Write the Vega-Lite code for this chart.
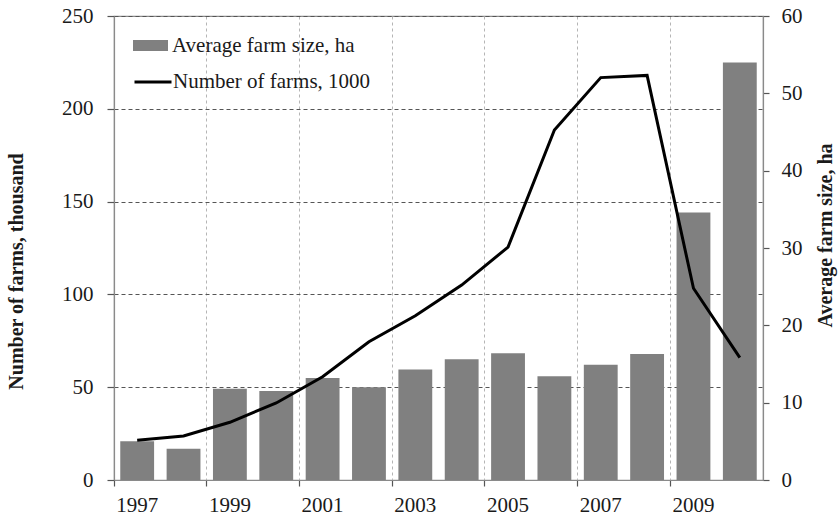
{
  "$schema": "https://vega.github.io/schema/vega-lite/v6.json",
  "width": 649,
  "height": 464,
  "autosize": "none",
  "padding": {"left": 114, "top": 16, "right": 75, "bottom": 38},
  "background": "white",
  "config": {
    "view": {"stroke": "#8a8a8a", "strokeWidth": 1.2},
    "font": "Liberation Serif",
    "axis": {
      "labelFont": "Liberation Serif",
      "labelFontSize": 21,
      "labelColor": "#1a1a1a",
      "titleFont": "Liberation Serif",
      "titleFontSize": 20,
      "titleFontWeight": "bold",
      "titleColor": "#1a1a1a",
      "domainColor": "#8a8a8a",
      "domainWidth": 1.2,
      "tickColor": "#555555",
      "tickWidth": 1.2
    },
    "legend": {
      "labelFont": "Liberation Serif",
      "labelFontSize": 21,
      "labelColor": "#1a1a1a",
      "labelLimit": 400
    }
  },
  "data": {
    "values": [
      {"year": 1997, "farms": 21.4, "size": 5.0},
      {"year": 1998, "farms": 23.7, "size": 4.05},
      {"year": 1999, "farms": 31.1, "size": 11.8},
      {"year": 2000, "farms": 41.5, "size": 11.5},
      {"year": 2001, "farms": 55.6, "size": 13.2},
      {"year": 2002, "farms": 74.5, "size": 12.0},
      {"year": 2003, "farms": 88.5, "size": 14.3},
      {"year": 2004, "farms": 105.0, "size": 15.6},
      {"year": 2005, "farms": 125.5, "size": 16.4},
      {"year": 2006, "farms": 188.6, "size": 13.4},
      {"year": 2007, "farms": 216.8, "size": 14.9},
      {"year": 2008, "farms": 218.0, "size": 16.3},
      {"year": 2009, "farms": 103.3, "size": 34.6},
      {"year": 2010, "farms": 65.9, "size": 54.0}
    ]
  },
  "encoding": {
    "x": {
      "field": "year",
      "type": "ordinal",
      "scale": {"paddingInner": 0, "paddingOuter": 0},
      "axis": {
        "title": null,
        "values": [1997, 1999, 2001, 2003, 2005, 2007, 2009],
        "labelAngle": 0,
        "bandPosition": 0,
        "labelOffset": 0,
        "labelPadding": 8,
        "tickSize": 6,
        "grid": true,
        "gridColor": "#b5b5b5",
        "gridDash": [3, 3],
        "gridWidth": 1
      }
    }
  },
  "layer": [
    {
      "mark": {"type": "bar", "width": {"band": 0.73}},
      "encoding": {
        "y": {
          "field": "size",
          "type": "quantitative",
          "scale": {"domain": [0, 60], "nice": false},
          "axis": {
            "orient": "right",
            "title": "Average farm size, ha",
            "values": [0, 10, 20, 30, 40, 50, 60],
            "grid": false,
            "tickSize": 6,
            "labelPadding": 12,
            "titleAngle": 270,
            "titleX": 62,
            "titleY": 219,
            "titleAlign": "center",
            "titleBaseline": "middle"
          }
        },
        "color": {
          "datum": "Average farm size, ha",
          "scale": {"range": ["#808080"]},
          "legend": {
            "title": null,
            "orient": "none",
            "legendX": 19,
            "legendY": 12,
            "padding": 0,
            "symbolType": "M-1,-0.31H1V0.31H-1Z",
            "symbolSize": 1225,
            "symbolStrokeWidth": 0,
            "labelOffset": 4
          }
        }
      }
    },
    {
      "mark": {"type": "line", "color": "black", "strokeWidth": 3},
      "encoding": {
        "y": {
          "field": "farms",
          "type": "quantitative",
          "scale": {"domain": [0, 250], "nice": false},
          "axis": {
            "orient": "left",
            "title": "Number of farms, thousand",
            "values": [0, 50, 100, 150, 200, 250],
            "grid": true,
            "gridColor": "#555555",
            "gridDash": [4, 3],
            "gridWidth": 1,
            "tickSize": 7,
            "labelPadding": 14,
            "titleAngle": 270,
            "titleX": -98,
            "titleY": 255,
            "titleAlign": "center",
            "titleBaseline": "middle"
          }
        },
        "stroke": {
          "datum": "Number of farms, 1000",
          "scale": {"range": ["black"]},
          "legend": {
            "title": null,
            "orient": "none",
            "legendX": 19,
            "legendY": 46,
            "padding": 0,
            "symbolType": "stroke",
            "symbolSize": 1369,
            "symbolStrokeWidth": 3,
            "labelOffset": 0
          }
        }
      }
    }
  ],
  "resolve": {"scale": {"y": "independent"}}
}
